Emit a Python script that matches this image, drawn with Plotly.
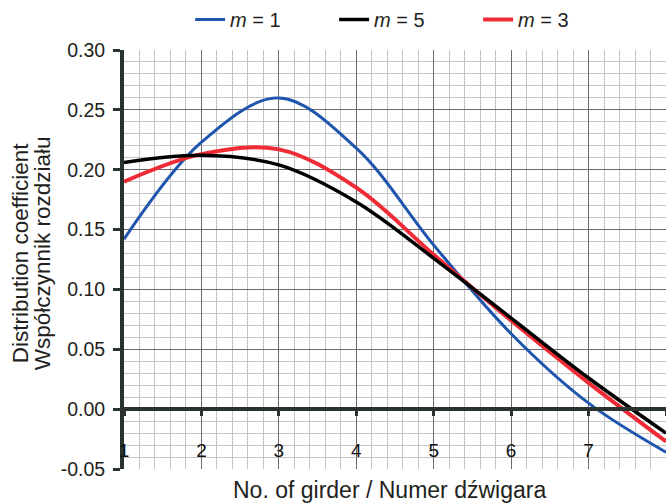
import plotly.graph_objects as go

girders = [1, 2, 3, 4, 5, 6, 7, 8]
m1 = [0.142, 0.223, 0.260, 0.218, 0.137, 0.063, 0.005, -0.036]
m5 = [0.206, 0.212, 0.204, 0.173, 0.126, 0.076, 0.026, -0.020]
m3 = [0.190, 0.213, 0.217, 0.185, 0.129, 0.074, 0.022, -0.027]

y_min, y_max = -0.05, 0.30
x_ticks = [1, 2, 3, 4, 5, 6, 7, 8]
y_ticks = [-0.05, 0.00, 0.05, 0.10, 0.15, 0.20, 0.25, 0.30]

x_title = "No. of girder / Numer dźwigara"
y_title_1 = "Distribution coefficient"
y_title_2 = "Współczynnik rozdziału"

AXC = "#2b3331"
FONT = "Liberation Sans"
TXT = "#231f20"

fig = go.Figure()
fig.add_trace(go.Scatter(x=girders, y=m1, mode="lines", name="<i>m</i> = 1",
                         line=dict(color="#1f55ad", width=3, shape="spline"), legendrank=1))
fig.add_trace(go.Scatter(x=girders, y=m3, mode="lines", name="<i>m</i> = 3",
                         line=dict(color="#ef2b36", width=4, shape="spline"), legendrank=3))
fig.add_trace(go.Scatter(x=girders, y=m5, mode="lines", name="<i>m</i> = 5",
                         line=dict(color="#000000", width=3.5, shape="spline"), legendrank=2))

zero_pos = (0 - y_min) / (y_max - y_min)

fig.update_layout(
    width=666, height=504,
    margin=dict(l=124, r=0, t=49, b=35),
    paper_bgcolor="white", plot_bgcolor="white",
    font=dict(family=FONT, color=TXT),
    showlegend=True,
    legend=dict(orientation="h", x=0.122, xanchor="left", y=1.074, yanchor="middle",
                font=dict(size=20, family=FONT), traceorder="normal",
                entrywidth=99, entrywidthmode="pixels"),
    xaxis=dict(
        range=[1, 8], tickvals=x_ticks, ticktext=[str(v) for v in x_ticks],
        anchor="free", position=zero_pos,
        showline=True, linecolor=AXC, linewidth=4,
        ticks="outside", ticklen=5, tickwidth=3, tickcolor=AXC,
        ticklabelstandoff=18,
        tickfont=dict(size=19, family=FONT, color="#111"),
        showgrid=True, gridcolor="#6a6a6a", gridwidth=1,
        minor=dict(dtick=0.2, showgrid=True, gridcolor="#c4c4c4", gridwidth=1),
        zeroline=False,
        automargin=False,
    ),
    yaxis=dict(
        range=[y_min, y_max], tickvals=y_ticks,
        ticktext=[f"{v:.2f}" for v in y_ticks],
        showline=True, linecolor=AXC, linewidth=4,
        ticks="outside", ticklen=7, tickwidth=3, tickcolor=AXC,
        ticklabelstandoff=4,
        tickfont=dict(size=19.5, family=FONT),
        showgrid=True, gridcolor="#6a6a6a", gridwidth=1,
        minor=dict(dtick=0.01, showgrid=True, gridcolor="#c4c4c4", gridwidth=1),
        zeroline=False,
        automargin=False,
    ),
    annotations=[
        dict(text=x_title, xref="paper", yref="paper", x=0.49, y=-0.05,
             xanchor="center", yanchor="middle", showarrow=False,
             font=dict(size=23, family=FONT, color=TXT)),
        dict(text=y_title_1, xref="paper", yref="paper", x=-0.1919, y=0.515,
             xanchor="center", yanchor="middle", showarrow=False, textangle=-90,
             font=dict(size=22.5, family=FONT, color=TXT)),
        dict(text=y_title_2, xref="paper", yref="paper", x=-0.1513, y=0.515,
             xanchor="center", yanchor="middle", showarrow=False, textangle=-90,
             font=dict(size=22.5, family=FONT, color=TXT)),
    ],
)

fig.write_html("out.html")
